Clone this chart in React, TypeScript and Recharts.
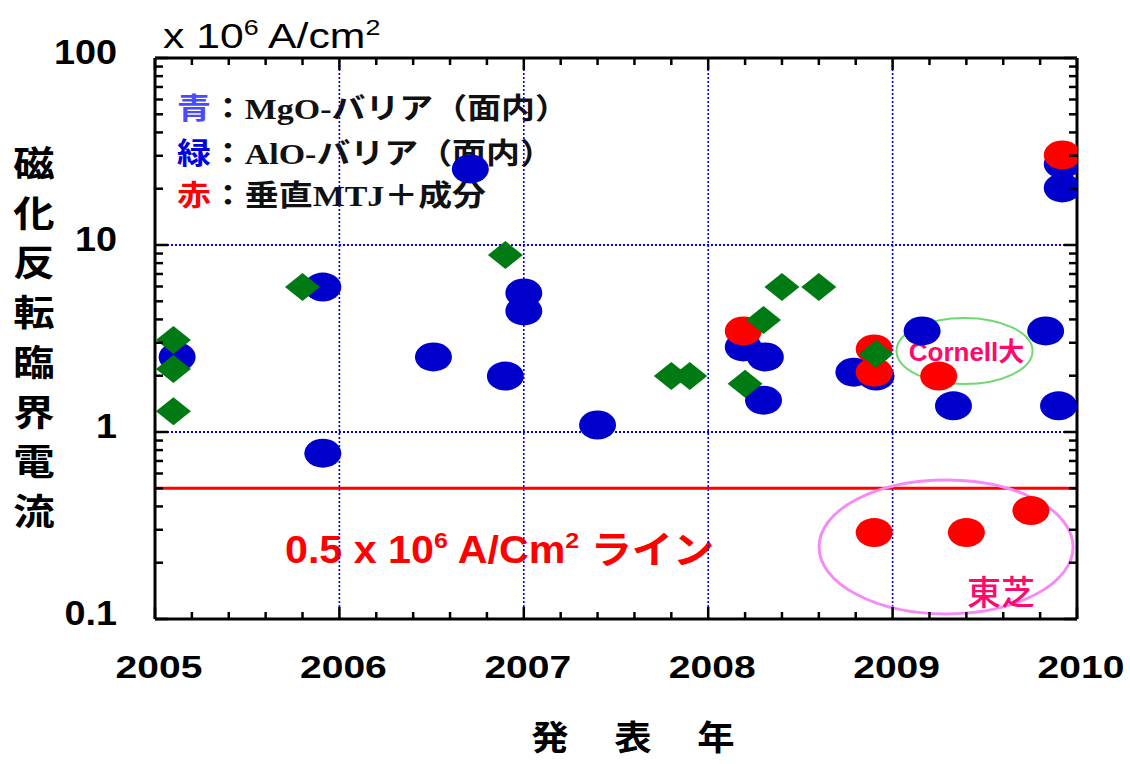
import React from 'react';
import { ScatterChart, Scatter, XAxis, YAxis, ReferenceLine, ReferenceDot } from 'recharts';

// 発表年 vs 磁化反転臨界電流 (x 10^6 A/cm2), log scale
const blueYears = [2005.12, 2005.91, 2005.91, 2006.51, 2006.71, 2006.9, 2007.0, 2007.0, 2007.4, 2008.19, 2008.31, 2008.3, 2008.79, 2008.91, 2009.16, 2009.33, 2009.83, 2009.9, 2009.92, 2009.92];
const blueValues = [2.52, 5.96, 0.77, 2.52, 25.5, 1.99, 5.54, 4.44, 1.09, 2.85, 2.52, 1.48, 2.09, 1.99, 3.47, 1.38, 3.47, 1.38, 27.1, 20.2];

const redYears = [2008.19, 2008.9, 2008.9, 2009.25, 2009.92, 2008.9, 2009.4, 2009.75];
const redValues = [3.47, 2.78, 2.09, 1.99, 30.3, 0.29, 0.29, 0.38];

const greenYears = [2005.1, 2005.1, 2005.1, 2005.8, 2006.9, 2007.8, 2007.9, 2008.2, 2008.3, 2008.4, 2008.6, 2008.91];
const greenValues = [3.1, 2.17, 1.29, 5.96, 8.84, 1.99, 1.99, 1.81, 3.97, 5.96, 5.96, 2.61];

const yearLabels = [2005, 2006, 2007, 2008, 2009, 2010];
const gridYears = [2006, 2007, 2008, 2009];
const decades = [0.1, 1, 10];
const gridValues = [1, 10];
const limitValue = 0.5; // 0.5 x 10^6 A/cm2 line

const yTitle = ['磁', '化', '反', '転', '臨', '界', '電', '流'];
const xTitle = ['発', '表', '年'];

// minor ticks: every 0.2 year, 1..9 per decade
const xTicks = yearLabels
  .slice(0, -1)
  .flatMap((y) => [0, 0.2, 0.4, 0.6, 0.8].map((f) => +(y + f).toFixed(1)))
  .concat([2010]);
const yTicks = decades
  .flatMap((d) => [1, 2, 3, 4, 5, 6, 7, 8, 9].map((m) => +(d * m).toPrecision(2)))
  .concat([100]);

const zip = (xs: number[], ys: number[]) => xs.map((x, i) => ({ x, y: ys[i] }));
const blueData = zip(blueYears, blueValues);
const redData = zip(redYears, redValues);
const greenData = zip(greenYears, greenValues);

const BLUE = '#0000cc';
const RED = '#ff0000';
const GREEN = '#007a12';
const PINK = '#ff0a6c';
const GRID = '#0000ee';

const W = 1130;
const H = 764;
const PLOT_TOP = 58;
const PLOT_RIGHT = 1077;

const SANS = "'Liberation Sans', Arial, 'Noto Sans CJK JP', sans-serif";
const SERIF = "'Liberation Serif', 'Noto Sans CJK JP', serif";
const CJK = "'Noto Sans CJK JP', sans-serif";

const XTick = (props: any) => {
  const { x, y, payload } = props;
  const v = payload.value;
  const major = Number.isInteger(v);
  const len = major ? 12 : 7;
  return (
    <g>
      <line x1={x} x2={x} y1={y} y2={y - len} stroke="#000" strokeWidth={2.5} />
      <line x1={x} x2={x} y1={PLOT_TOP} y2={PLOT_TOP + len} stroke="#000" strokeWidth={2.5} />
      {major && (
        <text
          transform={`translate(${x + 4},${y + 59}) scale(1.22,1)`}
          textAnchor="middle"
          fontFamily={SANS}
          fontWeight="bold"
          fontSize={32}
          fill="#000"
        >
          {v}
        </text>
      )}
    </g>
  );
};

const YTick = (props: any) => {
  const { x, y, payload } = props;
  const v = payload.value;
  const e = Math.log10(v);
  const major = Math.abs(e - Math.round(e)) < 1e-6;
  const len = major ? 13 : 8;
  return (
    <g>
      <line x1={x} x2={x + len} y1={y} y2={y} stroke="#000" strokeWidth={2.5} />
      <line x1={PLOT_RIGHT} x2={PLOT_RIGHT - len} y1={y} y2={y} stroke="#000" strokeWidth={2.5} />
      {major && (
        <text
          transform={`translate(117,${y + 6}) scale(1.08,1)`}
          textAnchor="end"
          fontFamily={SANS}
          fontWeight="bold"
          fontSize={35}
          fill="#000"
        >
          {String(v)}
        </text>
      )}
    </g>
  );
};

const Circle = (color: string) => (p: any) => (
  <ellipse cx={p.cx} cy={p.cy} rx={18.5} ry={14.5} fill={color} />
);

const Diamond = (p: any) => (
  <polygon
    points={`${p.cx - 17.5},${p.cy} ${p.cx},${p.cy - 14} ${p.cx + 17.5},${p.cy} ${p.cx},${p.cy + 14}`}
    fill={GREEN}
  />
);

const CornellMark = (p: any) => (
  <g>
    <ellipse cx={p.cx} cy={p.cy} rx={68} ry={33} fill="none" stroke="#6fd86f" strokeWidth={2} />
    <text x={p.cx + 2} y={p.cy + 10} textAnchor="middle" fontFamily={SANS} fontWeight="bold" fontSize={26} fill={PINK}>
      Cornell大
    </text>
  </g>
);

const ToshibaMark = (p: any) => (
  <g>
    <ellipse cx={p.cx} cy={p.cy} rx={127} ry={67} fill="none" stroke="#f58cf5" strokeWidth={3} />
    <text x={p.cx + 55} y={p.cy + 58} textAnchor="middle" fontFamily={CJK} fontWeight={500} fontSize={34} fill={PINK}>
      東芝
    </text>
  </g>
);

const legendRows = [
  { key: '青', color: '#4a4aff', text: '：MgO-バリア（面内）', y: 119 },
  { key: '緑', color: '#0000e6', text: '：AlO-バリア（面内）', y: 164 },
  { key: '赤', color: RED, text: '：垂直MTJ＋成分', y: 206 },
];

export default function App() {
  return (
    <div style={{ position: 'absolute', left: 0, top: 0, width: W, height: H, background: '#fff' }}>
      <svg width={W} height={H} style={{ position: 'absolute', left: 0, top: 0 }}>
        <text transform="translate(163,48) scale(1.22,1)" fontFamily={SANS} fontSize={35} fill="#000">
          x 10<tspan fontSize={22} dy={-13}>6</tspan>
          <tspan fontSize={35} dy={13}> A/cm</tspan>
          <tspan fontSize={22} dy={-13}>2</tspan>
        </text>
        {legendRows.map((r) => (
          <text
            key={r.key}
            transform={`translate(177,${r.y}) scale(1.17,1)`}
            fontFamily={SERIF}
            fontWeight="bold"
            fontSize={29}
            fill="#111"
          >
            <tspan fill={r.color}>{r.key}</tspan>
            {r.text}
          </text>
        ))}
        {yTitle.map((c, i) => (
          <text
            key={c}
            transform={`translate(34,${177 + i * 49.7}) scale(1.15,1)`}
            textAnchor="middle"
            fontFamily={CJK}
            fontWeight="bold"
            fontSize={36}
            fill="#000"
          >
            {c}
          </text>
        ))}
        {xTitle.map((c, i) => (
          <text
            key={c}
            transform={`translate(${550 + i * 83},750) scale(1.1,1)`}
            textAnchor="middle"
            fontFamily={CJK}
            fontWeight="bold"
            fontSize={34}
            fill="#000"
          >
            {c}
          </text>
        ))}
        <text transform="translate(285,563) scale(1.085,1)" fontFamily={SANS} fontWeight="bold" fontSize={38} fill={RED}>
          0.5 x 10<tspan fontSize={23} dy={-15}>6</tspan>
          <tspan fontSize={38} dy={15}> A/Cm</tspan>
          <tspan fontSize={23} dy={-15}>2</tspan>
          <tspan fontSize={38} dy={15}> ライン</tspan>
        </text>
      </svg>
      <div style={{ position: 'absolute', left: 0, top: 0 }}>
        <ScatterChart width={W} height={H} margin={{ top: PLOT_TOP, right: 53, bottom: 85, left: 95 }}>
          <XAxis
            dataKey="x"
            type="number"
            domain={[2005, 2010]}
            allowDataOverflow
            ticks={xTicks}
            interval={0}
            height={60}
            tickSize={0}
            tickMargin={0}
            tickLine={false}
            tick={(p: any) => <XTick {...p} />}
            axisLine={{ stroke: '#000', strokeWidth: 3 }}
          />
          <YAxis
            dataKey="y"
            type="number"
            scale="log"
            domain={[0.1, 100]}
            allowDataOverflow
            ticks={yTicks}
            interval={0}
            width={60}
            tickSize={0}
            tickMargin={0}
            tickLine={false}
            tick={(p: any) => <YTick {...p} />}
            axisLine={{ stroke: '#000', strokeWidth: 3 }}
          />
          {gridYears.map((g) => (
            <ReferenceLine key={`gx${g}`} x={g} stroke={GRID} strokeWidth={1.6} strokeDasharray="2 2" />
          ))}
          {gridValues.map((g) => (
            <ReferenceLine key={`gy${g}`} y={g} stroke={GRID} strokeWidth={2} strokeDasharray="2 2" />
          ))}
          <ReferenceDot x={2009.39} y={2.71} shape={CornellMark} />
          <ReferenceDot x={2009.29} y={0.243} shape={ToshibaMark} />
          <ReferenceLine y={limitValue} stroke={RED} strokeWidth={3} />
          <ReferenceLine y={100} stroke="#000" strokeWidth={3} />
          <ReferenceLine x={2010} stroke="#000" strokeWidth={3} />
          <Scatter data={blueData} shape={Circle(BLUE)} isAnimationActive={false} />
          <Scatter data={redData} shape={Circle(RED)} isAnimationActive={false} />
          <Scatter data={greenData} shape={Diamond} isAnimationActive={false} />
        </ScatterChart>
      </div>
    </div>
  );
}
